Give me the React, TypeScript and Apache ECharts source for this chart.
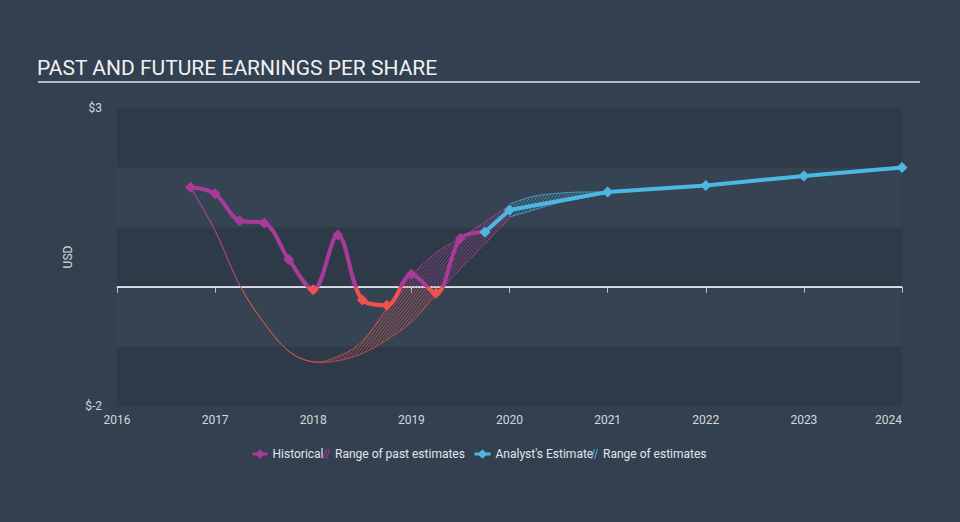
import React, { useEffect, useRef } from 'react';
import * as echarts from 'echarts';

// ---------- data (decimal years, EPS in USD) ----------
const X_MIN = 2016;
const X_MAX = 2024;
const Y_MIN = -2;
const Y_MAX = 3;

const histDates = [2016.75, 2017.0, 2017.25, 2017.5, 2017.75, 2018.0, 2018.25, 2018.5, 2018.75, 2019.0, 2019.25, 2019.5, 2019.75];
const histEps = [1.67, 1.56, 1.11, 1.07, 0.46, -0.05, 0.87, -0.22, -0.31, 0.21, -0.11, 0.81, 0.92];

const estDates = [2019.75, 2020.0, 2021.0, 2022.0, 2023.0, 2024.0];
const estEps = [0.92, 1.29, 1.59, 1.7, 1.86, 2.0];

const pastRangeDates = [2016.75, 2017.0, 2017.25, 2017.5, 2017.75, 2018.0, 2018.25, 2018.5, 2018.75, 2019.0, 2019.25, 2019.5, 2019.75, 2020.0];
const pastRangeLow = [1.67, 0.94, 0.03, -0.61, -1.08, -1.26, -1.24, -1.12, -0.89, -0.59, -0.14, 0.3, 0.72, 1.15];
const pastRangeHigh = [1.67, 0.94, 0.03, -0.61, -1.08, -1.26, -1.17, -0.91, -0.36, 0.18, 0.57, 0.82, 1.09, 1.37];

const futureRangeDates = [2020.0, 2020.25, 2020.5, 2020.75, 2021.0];
const futureRangeLow = [1.17, 1.29, 1.41, 1.49, 1.59];
const futureRangeHigh = [1.39, 1.52, 1.57, 1.59, 1.59];

const zeroLine = [[X_MIN, 0], [X_MAX, 0]];

const yLabels: Record<string, string> = { '3': '$3', '-2': '$-2' };

// ---------- styles ----------
const MAGENTA = '#a83b98';
const RED = '#f0524d';
const BLUE = '#4cb8e1';
const HATCH_MAGENTA = 'rgba(180,66,160,0.9)';
const HATCH_RED = 'rgba(236,84,78,0.9)';
const HATCH_BLUE = 'rgba(76,184,225,0.9)';
const TEXT = '#d3d8dd';
const FONT = 'Roboto, sans-serif';
const HATCH_ICON = 'path://M0,10 L3,0 L4,0 L1,10 Z M3,10 L6,0 L7,0 L4,10 Z';

function splitGradient(yTop: number, yBot: number, y0: number, colTop: string, colBottom: string) {
  const f = Math.min(1, Math.max(0, (y0 - yTop) / (yBot - yTop)));
  return {
    type: 'linear', x: 0, y: yTop, x2: 0, y2: yBot, global: true,
    colorStops: [
      { offset: 0, color: colTop },
      { offset: f, color: colTop },
      { offset: f, color: colBottom },
      { offset: 1, color: colBottom },
    ],
  };
}

function catmullRom(pts: number[][], seg: number): number[][] {
  const out: number[][] = [];
  for (let i = 0; i < pts.length - 1; i++) {
    const p0 = pts[i - 1] || pts[i];
    const p1 = pts[i];
    const p2 = pts[i + 1];
    const p3 = pts[i + 2] || pts[i + 1];
    for (let s = 0; s < seg; s++) {
      const t = s / seg;
      const t2 = t * t;
      const t3 = t2 * t;
      const f = (a: number, b: number, c: number, d: number) =>
        0.5 * (2 * b + (-a + c) * t + (2 * a - 5 * b + 4 * c - d) * t2 + (-a + 3 * b - 3 * c + d) * t3);
      out.push([f(p0[0], p1[0], p2[0], p3[0]), f(p0[1], p1[1], p2[1], p3[1])]);
    }
  }
  out.push(pts[pts.length - 1]);
  return out;
}

function makeBandRenderer(dates: number[], low: number[], high: number[], colTop: string, colBottom: string) {
  return (_params: any, api: any) => {
    const L = catmullRom(dates.map((d, i) => api.coord([d, low[i]])), 40);
    const H = catmullRom(dates.map((d, i) => api.coord([d, high[i]])), 40);
    const yTop = api.coord([X_MIN, Y_MAX])[1];
    const yBot = api.coord([X_MIN, Y_MIN])[1];
    const y0 = api.coord([X_MIN, 0])[1];
    const grad = splitGradient(yTop, yBot, y0, colTop, colBottom);
    const m = 1.3;
    const step = 3.1;
    const lo: number[] = [];
    const hi: number[] = [];
    let cMin = Infinity;
    let cMax = -Infinity;
    for (let j = 0; j < L.length; j++) {
      const x = L[j][0];
      const a = Math.min(L[j][1], H[j][1]) + m * x;
      const b = Math.max(L[j][1], H[j][1]) + m * x;
      lo.push(a);
      hi.push(b);
      if (a < cMin) cMin = a;
      if (b > cMax) cMax = b;
    }
    const cs = step * m;
    let hatch = '';
    for (let c = Math.ceil(cMin / cs) * cs; c <= cMax; c += cs) {
      let start = -1;
      for (let j = 0; j <= L.length; j++) {
        const inside = j < L.length && lo[j] <= c && c <= hi[j];
        if (inside && start < 0) start = j;
        if (!inside && start >= 0) {
          const end = j - 1;
          if (end > start) {
            const x1 = L[start][0];
            const x2 = L[end][0];
            hatch += 'M' + x1.toFixed(2) + ',' + (c - m * x1).toFixed(2) + 'L' + x2.toFixed(2) + ',' + (c - m * x2).toFixed(2);
          }
          start = -1;
        }
      }
    }
    const edge = (P: number[][]) =>
      P.map((p, i) => (i === 0 ? 'M' : 'L') + p[0].toFixed(2) + ',' + p[1].toFixed(2)).join('');
    const children: any[] = [
      {
        type: 'path',
        shape: { pathData: edge(L) + edge(H) },
        style: { fill: 'none', stroke: grad, lineWidth: 0.9 },
        silent: true,
      },
    ];
    if (hatch) {
      children.push({
        type: 'path',
        shape: { pathData: hatch },
        style: { fill: 'none', stroke: grad, lineWidth: 0.7 },
        silent: true,
      });
    }
    return { type: 'group', children };
  };
}

function buildOption(): any {
  const histData = histDates.map((d, i) => [d, histEps[i]]);
  const estData = estDates.map((d, i) => [d, estEps[i]]);
  const legendText = { color: '#e2e6ea', fontSize: 12, fontFamily: FONT };
  return {
    animation: false,
    backgroundColor: '#334050',
    textStyle: { fontFamily: FONT },
    title: {
      text: 'PAST AND FUTURE EARNINGS PER SHARE',
      left: 37,
      top: 57,
      padding: 0,
      textStyle: { color: '#f0f2f4', fontSize: 21, fontWeight: 'normal', fontFamily: FONT },
    },
    graphic: [
      { type: 'rect', shape: { x: 38, y: 81, width: 882, height: 2 }, style: { fill: '#b4bac1' }, silent: true },
    ],
    grid: { left: 117, right: 58, top: 108, bottom: 116 },
    legend: [
      {
        data: [{ name: 'Historical', itemStyle: { color: MAGENTA }, lineStyle: { color: MAGENTA, width: 3 } }],
        left: 251, top: 448, padding: 0, itemWidth: 15, itemHeight: 12, selectedMode: false, textStyle: legendText,
      },
      {
        data: [{ name: 'Range of past estimates', icon: HATCH_ICON, itemStyle: { color: MAGENTA } }],
        left: 323, top: 448, padding: 0, itemWidth: 7, itemHeight: 10, selectedMode: false, textStyle: legendText,
      },
      {
        data: [{ name: "Analyst's Estimate", itemStyle: { color: BLUE }, lineStyle: { color: BLUE, width: 3 } }],
        left: 473, top: 448, padding: 0, itemWidth: 16, itemHeight: 12, selectedMode: false, textStyle: legendText,
      },
      {
        data: [{ name: 'Range of estimates', icon: HATCH_ICON, itemStyle: { color: BLUE } }],
        left: 591, top: 448, padding: 0, itemWidth: 7, itemHeight: 10, selectedMode: false, textStyle: legendText,
      },
    ],
    xAxis: {
      type: 'value',
      min: X_MIN,
      max: X_MAX,
      interval: 1,
      axisLine: { show: true, lineStyle: { color: '#b4c2cf', width: 1 } },
      axisTick: { show: true, length: 6, lineStyle: { color: '#b4c2cf' } },
      splitLine: { show: false },
      axisLabel: {
        color: TEXT,
        fontSize: 12,
        margin: 8,
        fontFamily: FONT,
        alignMaxLabel: 'right',
        formatter: (v: number) => String(Math.round(v)),
      },
    },
    yAxis: {
      type: 'value',
      min: Y_MIN,
      max: Y_MAX,
      interval: 1,
      name: 'USD',
      nameLocation: 'middle',
      nameGap: 23,
      nameTextStyle: { color: TEXT, fontSize: 12, fontFamily: FONT },
      axisLine: { show: false },
      axisTick: { show: false },
      splitLine: { show: false },
      splitArea: { show: true, areaStyle: { color: ['#2e3a48', '#354353'] } },
      axisLabel: {
        color: TEXT,
        fontSize: 12,
        margin: 15,
        fontFamily: FONT,
        formatter: (v: number) => yLabels[String(Math.round(v))] || '',
      },
    },
    series: [
      {
        id: 'zero',
        name: 'zero',
        type: 'line',
        data: zeroLine,
        symbol: 'none',
        silent: true,
        lineStyle: { color: '#ffffff', width: 1.3 },
        z: 1,
      },
      {
        id: 'pastRange',
        name: 'Range of past estimates',
        type: 'custom',
        coordinateSystem: 'cartesian2d',
        data: [[2018, 0]],
        itemStyle: { color: MAGENTA },
        silent: true,
        z: 2,
        renderItem: makeBandRenderer(pastRangeDates, pastRangeLow, pastRangeHigh, HATCH_MAGENTA, HATCH_RED),
      },
      {
        id: 'futureRange',
        name: 'Range of estimates',
        type: 'custom',
        coordinateSystem: 'cartesian2d',
        data: [[2020.5, 1.5]],
        itemStyle: { color: BLUE },
        silent: true,
        z: 2,
        renderItem: makeBandRenderer(futureRangeDates, futureRangeLow, futureRangeHigh, HATCH_BLUE, HATCH_BLUE),
      },
      {
        id: 'hist',
        name: 'Historical',
        type: 'line',
        data: histData,
        smooth: 0.35,
        symbol: 'diamond',
        symbolSize: 11,
        lineStyle: { width: 4, color: MAGENTA },
        itemStyle: { color: (p: any) => (p.value[1] < 0 ? RED : MAGENTA) },
        z: 3,
      },
      {
        id: 'est',
        name: "Analyst's Estimate",
        type: 'line',
        data: estData,
        smooth: false,
        symbol: 'diamond',
        symbolSize: 11,
        lineStyle: { width: 4, color: BLUE },
        itemStyle: { color: BLUE },
        z: 4,
      },
    ],
  };
}

export default function App() {
  const ref = useRef<HTMLDivElement>(null);
  useEffect(() => {
    if (!ref.current) return;
    const chart = echarts.init(ref.current, null, { renderer: 'svg' });
    chart.setOption(buildOption());
    const px = (v: number) => chart.convertToPixel({ xAxisIndex: 0, yAxisIndex: 0 }, [X_MIN, v])[1];
    const grad = splitGradient(px(Y_MAX), px(Y_MIN), px(0), MAGENTA, RED);
    chart.setOption({ series: [{ id: 'hist', lineStyle: { color: grad } }] });
    return () => chart.dispose();
  }, []);
  return (
    <div
      ref={ref}
      style={{ position: 'absolute', left: 0, top: 0, width: 960, height: 522 }}
    />
  );
}
